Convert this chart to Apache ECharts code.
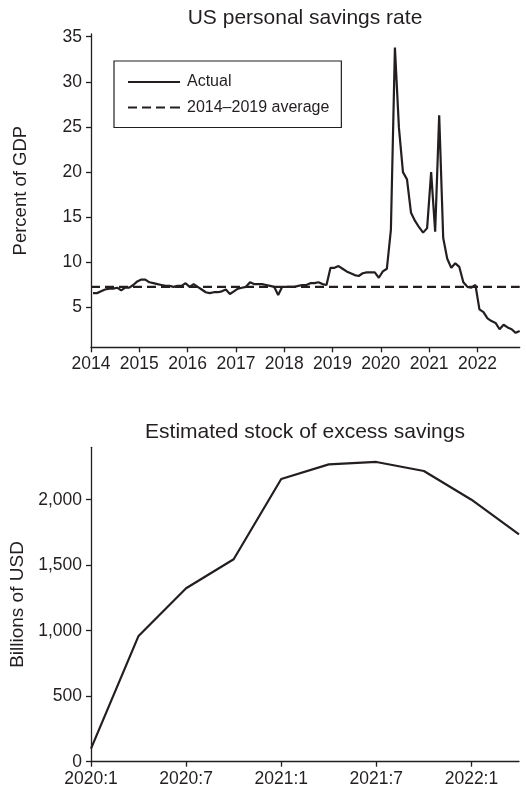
<!DOCTYPE html>
<html>
<head>
<meta charset="utf-8">
<script src="https://cdn.jsdelivr.net/npm/echarts@6/dist/echarts.min.js"></script>
<style>
html,body{margin:0;padding:0;background:#fff;}
#chart{width:526px;height:788px;}
</style>
</head>
<body>
<div id="chart"></div>
<script>
// ---- Data ----
const rateStartYear = 2014; // monthly series starting Jan 2014
const savingsRate = [
  6.6, 6.6, 6.8, 7.0, 7.1, 7.1, 7.2, 6.9, 7.2, 7.2, 7.5, 7.9,
  8.1, 8.1, 7.8, 7.7, 7.6, 7.5, 7.4, 7.4, 7.3, 7.4, 7.4, 7.7,
  7.3, 7.6, 7.3, 7.0, 6.7, 6.6, 6.7, 6.7, 6.8, 7.0, 6.5, 6.8,
  7.1, 7.2, 7.3, 7.8, 7.6, 7.6, 7.6, 7.5, 7.4, 7.3, 6.4, 7.3,
  7.3, 7.3, 7.3, 7.4, 7.5, 7.5, 7.7, 7.7, 7.8, 7.6, 7.5, 9.4,
  9.4, 9.6, 9.3, 9.0, 8.8, 8.6, 8.5, 8.8, 8.9, 8.9, 8.9, 8.3,
  9.0, 9.3, 13.6, 33.8, 24.9, 20.0, 19.2, 15.5, 14.6, 13.9, 13.3, 13.8,
  20.0, 13.4, 26.3, 12.7, 10.4, 9.4, 9.9, 9.5, 7.8, 7.3, 7.2, 7.5,
  4.8, 4.5, 3.8, 3.5, 3.3, 2.6, 3.1, 2.8, 2.6, 2.2, 2.4
];
const averageRate = 7.3; // 2014–2019 average
const rateYearTicks = [2014, 2015, 2016, 2017, 2018, 2019, 2020, 2021, 2022];
const rateYTicks = [5, 10, 15, 20, 25, 30, 35];

const excessMonths = [0, 3, 6, 9, 12, 15, 18, 21, 24, 27]; // months since 2020:1
const excessSavings = [100, 960, 1324, 1545, 2158, 2270, 2288, 2219, 2000, 1736];
const excessXTicks = [0, 6, 12, 18, 24];
const excessXLabels = ['2020:1', '2020:7', '2021:1', '2021:7', '2022:1'];
const excessYTicks = [0, 500, 1000, 1500, 2000];

// ---- Build ----
const ink = '#231f20';
const font = 'Liberation Sans, Arial, Helvetica, sans-serif';
const rateMax = rateStartYear + (savingsRate.length - 0.5) / 12;
const ratePoints = savingsRate.map((v, i) => [rateStartYear + (i + 0.5) / 12, v]);
const avgPoints = [[rateStartYear, averageRate], [rateMax, averageRate]];
const excessPoints = excessSavings.map((v, i) => [excessMonths[i], v]);

const axisLine = {show: true, lineStyle: {color: ink, width: 1.3}};
const tickStyle = {show: true, length: 5, lineStyle: {color: ink, width: 1.3}};
const labelStyle = {color: ink, fontFamily: font, fontSize: 17.5};

const solidIcon = 'path://M0,0h52v2.2h-52z';
const dashIcon = 'path://M0,0h9v2.2h-9zM14,0h9v2.2h-9zM28,0h9v2.2h-9zM42,0h10v2.2h-10z';

const chart = echarts.init(document.getElementById('chart'), null, {renderer: 'canvas'});
chart.setOption({
  animation: false,
  backgroundColor: '#ffffff',
  title: [
    {text: 'US personal savings rate', left: 305, top: 8, textAlign: 'center', padding: 0,
     textStyle: {color: ink, fontFamily: font, fontSize: 21, fontWeight: 'normal', lineHeight: 21}},
    {text: 'Estimated stock of excess savings', left: 305, top: 422, textAlign: 'center', padding: 0,
     textStyle: {color: ink, fontFamily: font, fontSize: 21, fontWeight: 'normal', lineHeight: 21}}
  ],
  legend: {
    orient: 'vertical', left: 114, top: 61,
    padding: [13, 12, 12, 14],
    itemWidth: 52, itemHeight: 2.2, itemGap: 9.5,
    borderColor: ink, borderWidth: 1.2,
    textStyle: {color: ink, fontFamily: font, fontSize: 16, lineHeight: 16, padding: [0, 0, 0, 2]},
    data: [
      {name: 'Actual', icon: solidIcon},
      {name: '2014–2019 average', icon: dashIcon}
    ]
  },
  grid: [
    {left: 91, right: 6.3, top: 34, bottom: 440.7},
    {left: 91, right: 7, top: 447.3, bottom: 26.3}
  ],
  xAxis: [
    {type: 'value', gridIndex: 0, min: rateStartYear, max: rateMax,
     axisLine: axisLine, splitLine: {show: false},
     axisTick: Object.assign({customValues: rateYearTicks}, tickStyle),
     axisLabel: Object.assign({customValues: rateYearTicks, margin: 8, formatter: v => String(v)}, labelStyle)},
    {type: 'value', gridIndex: 1, min: 0, max: 27,
     axisLine: axisLine, splitLine: {show: false},
     axisTick: Object.assign({customValues: excessXTicks}, tickStyle),
     axisLabel: Object.assign({customValues: excessXTicks, margin: 8,
       formatter: v => excessXLabels[excessXTicks.indexOf(v)]}, labelStyle)}
  ],
  yAxis: [
    {type: 'value', gridIndex: 0, min: 0.6, max: 35.3,
     name: 'Percent of GDP', nameLocation: 'middle', nameGap: 61,
     nameTextStyle: {color: ink, fontFamily: font, fontSize: 18.5},
     axisLine: axisLine, splitLine: {show: false},
     axisTick: Object.assign({customValues: rateYTicks}, tickStyle),
     axisLabel: Object.assign({customValues: rateYTicks, margin: 9}, labelStyle)},
    {type: 'value', gridIndex: 1, min: 0, max: 2400,
     name: 'Billions of USD', nameLocation: 'middle', nameGap: 64,
     nameTextStyle: {color: ink, fontFamily: font, fontSize: 19},
     axisLine: axisLine, splitLine: {show: false},
     axisTick: Object.assign({customValues: excessYTicks}, tickStyle),
     axisLabel: Object.assign({customValues: excessYTicks, margin: 9,
       formatter: v => v.toLocaleString('en-US')}, labelStyle)}
  ],
  series: [
    {name: 'Actual', type: 'line', xAxisIndex: 0, yAxisIndex: 0, data: ratePoints,
     symbol: 'none', lineStyle: {color: ink, width: 2.2}, itemStyle: {color: ink}, z: 3},
    {name: '2014–2019 average', type: 'line', xAxisIndex: 0, yAxisIndex: 0, data: avgPoints,
     symbol: 'none', lineStyle: {color: ink, width: 2.2, type: [9, 5]}, itemStyle: {color: ink}, z: 2},
    {name: 'Excess savings', type: 'line', xAxisIndex: 1, yAxisIndex: 1, data: excessPoints,
     symbol: 'none', lineStyle: {color: ink, width: 2.2}, itemStyle: {color: ink}}
  ]
});
</script>
</body>
</html>
